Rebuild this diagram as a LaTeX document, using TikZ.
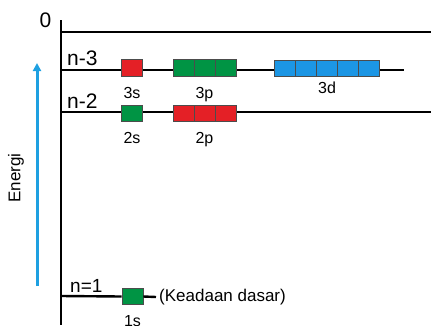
\documentclass[tikz,border=0pt]{standalone}
\usepackage{fontspec}
\setmainfont{Liberation Sans}
\usetikzlibrary{positioning}
\usetikzlibrary{arrows.meta}
\definecolor{orbred}{RGB}{228,32,38}
\definecolor{orbgreen}{RGB}{0,148,68}
\definecolor{orbblue}{RGB}{28,150,228}
\definecolor{arrowblue}{RGB}{30,160,225}
\tikzset{
	cell/.style={draw=black!70, line width=0.8pt, minimum width=21pt, minimum height=16.5pt, inner sep=0pt},
	level/.style={line width=2.4pt},
	lvl/.style={font=\fontsize{21}{21}\selectfont, anchor=base west, inner sep=0pt},
	orb/.style={font=\fontsize{16}{16}\selectfont, inner sep=1pt}
}

\begin{document}
\begin{tikzpicture}[x=1pt,y=1pt]
	\useasboundingbox (0,0) rectangle (431,-325);

	% Axis %
	\coordinate (axtop) at (61,-20);
	\coordinate (axbot) at (61,-325);
	\draw [line width=2.8pt] (axtop) -- (axbot);
	\node (zero) [font=\fontsize{21}{21}\selectfont, inner sep=0pt] at (45.5,-20.5) {0};
	% Energy arrow %
	\coordinate (enlow) at (37,-286);
	\coordinate (enhigh) at (37,-63);
	\draw [-{Triangle[length=8pt,width=8pt]}, line width=3pt, arrowblue] (enlow) -- (enhigh);
	\node (energi) [rotate=90, font=\fontsize{17}{17}\selectfont] at (16,-178) {Energi};

	% Levels %
	\coordinate (top0) at (61,-32);
	\coordinate (top1) at (431,-32);
	\draw [level] (top0) -- (top1);
	\coordinate (n3a) at (61,-70);
	\coordinate (n3b) at (404,-70);
	\draw [level] (n3a) -- (n3b);
	\coordinate (n2a) at (61,-112);
	\coordinate (n2b) at (431,-112);
	\draw [level] (n2a) -- (n2b);
	\coordinate (n1a) at (61,-296);
	\node (lvl3) [lvl] at (67,-65.5) {n-3};
	\node (lvl2) [lvl] at (67,-108) {n-2};
	\node (lvl1) [lvl, font=\fontsize{19}{19}\selectfont] at (70,-292) {n=1};

	% Shell 3 %
	\node (s3) [cell, fill=orbred] at (132,-68) {};
	\foreach \i in {0,1,2}
		\node (p3\i) [cell, fill=orbgreen] at (183.5+21*\i,-68) {};
	\foreach \i in {0,...,4}
		\node (d3\i) [cell, fill=orbblue] at (285+21*\i,-68.5) {};
	\node (s3lab) [orb, below=9pt of s3] {3s};
	\node (p3lab) [orb, below=9pt of p31] {3p};
	\node (d3lab) [orb, below=4pt of d32] {3d};

	% Shell 2 %
	\node (s2) [cell, fill=orbgreen] at (132,-113.5) {};
	\foreach \i in {0,1,2}
		\node (p2\i) [cell, fill=orbred] at (183.5+21*\i,-113.5) {};
	\node (s2lab) [orb, below=9pt of s2] {2s};
	\node (p2lab) [orb, below=9pt of p21] {2p};

	% Ground state %
	\node (s1) [cell, fill=orbgreen] at (132.5,-296.5) {};
	\draw [level] (n1a) -- (s1.west);
	\node (kd) [anchor=west, font=\fontsize{17}{17}\selectfont, inner sep=3pt] at (156,-297) {(Keadaan dasar)};
	\draw [level] (s1.east) -- (kd.west);
	\node (s1lab) [orb, below=9pt of s1] {1s};
\end{tikzpicture}
\end{document}
